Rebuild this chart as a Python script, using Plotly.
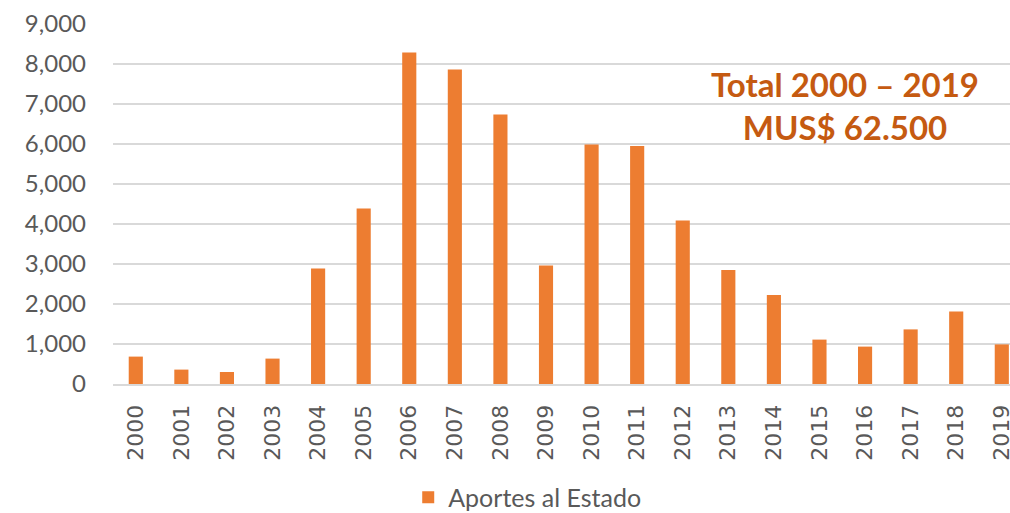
import plotly.graph_objects as go

# Aportes al Estado, MUS$
years = [str(y) for y in range(2000, 2020)]
aportes = [685, 360, 300, 635, 2890, 4385, 8285, 7860, 6735, 2965,
           5990, 5950, 4090, 2850, 2225, 1110, 935, 1365, 1810, 990]

series_name = "Aportes al Estado"
total_text = "Total 2000 – 2019<br>MUS$ 62.500"

bar_color = "#ED7D31"
text_gray = "#595959"
grid_gray = "#D9D9D9"
font_family = "Lato, Open Sans, sans-serif"

fig = go.Figure()

fig.add_trace(go.Bar(
	x = years, y = aportes, name = series_name,
	marker = dict(color = bar_color, line = dict(width = 0)),
	showlegend = True
))

fig.add_annotation(
	text = "<b>" + total_text + "</b>",
	xref = "paper", yref = "paper", x = 0.816, y = 0.774,
	xanchor = "center", yanchor = "middle", showarrow = False,
	font = dict(family = font_family, size = 33, color = "#C55A11"),
	align = "center"
)

fig.update_layout(
	width = 1010, height = 513,
	margin = dict(l = 113, r = 0, t = 24, b = 129),
	paper_bgcolor = "white", plot_bgcolor = "white",
	font = dict(family = font_family, color = text_gray, size = 22),
	bargap = 0.69,
	legend = dict(
		orientation = "h", xref = "container", yref = "container",
		x = 0.522, y = 0.03, xanchor = "center", yanchor = "middle",
		font = dict(size = 25, color = text_gray)
	),
	xaxis = dict(
		type = "category", range = [-0.5, 19.18], tickangle = -90,
		showline = True, linecolor = grid_gray, linewidth = 2,
		showgrid = False, ticks = "", automargin = False,
		tickfont = dict(family = "DejaVu Sans", size = 22, color = text_gray),
		ticklabelstandoff = 10
	),
	yaxis = dict(
		range = [0, 9000], dtick = 1000, tickformat = ",",
		showgrid = True, gridcolor = grid_gray, gridwidth = 1.5,
		zeroline = False, showline = False, ticks = "", automargin = False,
		tickfont = dict(size = 24, color = text_gray), ticklabelstandoff = 26
	)
)

# the page keeps the browser's default 8px body margin otherwise
fig.write_html("out.html", config = {"displayModeBar": False},
               post_script = "document.body.style.margin = '0';")
